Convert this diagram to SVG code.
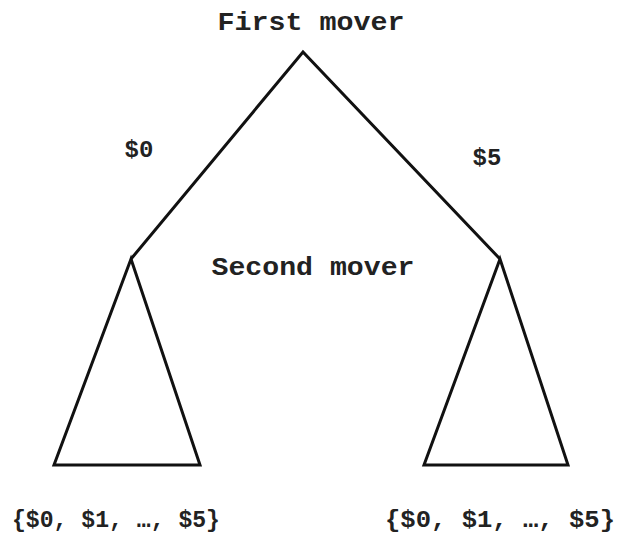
<svg xmlns="http://www.w3.org/2000/svg" width="626" height="536" viewBox="0 0 626 536">
<style>
.t{font-family:"Liberation Mono","Courier New",monospace;font-weight:bold;fill:#222;}
.e{stroke:#111;stroke-width:3;fill:none;stroke-linejoin:miter;}
</style>
<rect width="626" height="536" fill="#fff"/>
<g id="connectors">
<path class="e" d="M131,259 L303,52 L500,259"/>
</g>
<g id="first-mover">
<text class="t" x="311" y="30" font-size="26" text-anchor="middle" textLength="187" lengthAdjust="spacingAndGlyphs">First mover</text>
</g>
<g id="label-0">
<text class="t" x="139" y="157" font-size="24" text-anchor="middle">$0</text>
</g>
<g id="label-5">
<text class="t" x="487" y="165" font-size="24" text-anchor="middle">$5</text>
</g>
<g id="second-mover">
<text class="t" x="313" y="275" font-size="26" text-anchor="middle" textLength="203" lengthAdjust="spacingAndGlyphs">Second mover</text>
</g>
<g id="left-subtree">
<path class="e" d="M131,259 L54,465 L200,465 Z"/>
<text class="t" x="116" y="527" font-size="24" text-anchor="middle" textLength="208" lengthAdjust="spacingAndGlyphs">{$0, $1, …, $5}</text>
</g>
<g id="right-subtree">
<path class="e" d="M500,259 L424,465 L568,465 Z"/>
<text class="t" x="500" y="527" font-size="24" text-anchor="middle" textLength="230" lengthAdjust="spacingAndGlyphs">{$0, $1, …, $5}</text>
</g>
</svg>
